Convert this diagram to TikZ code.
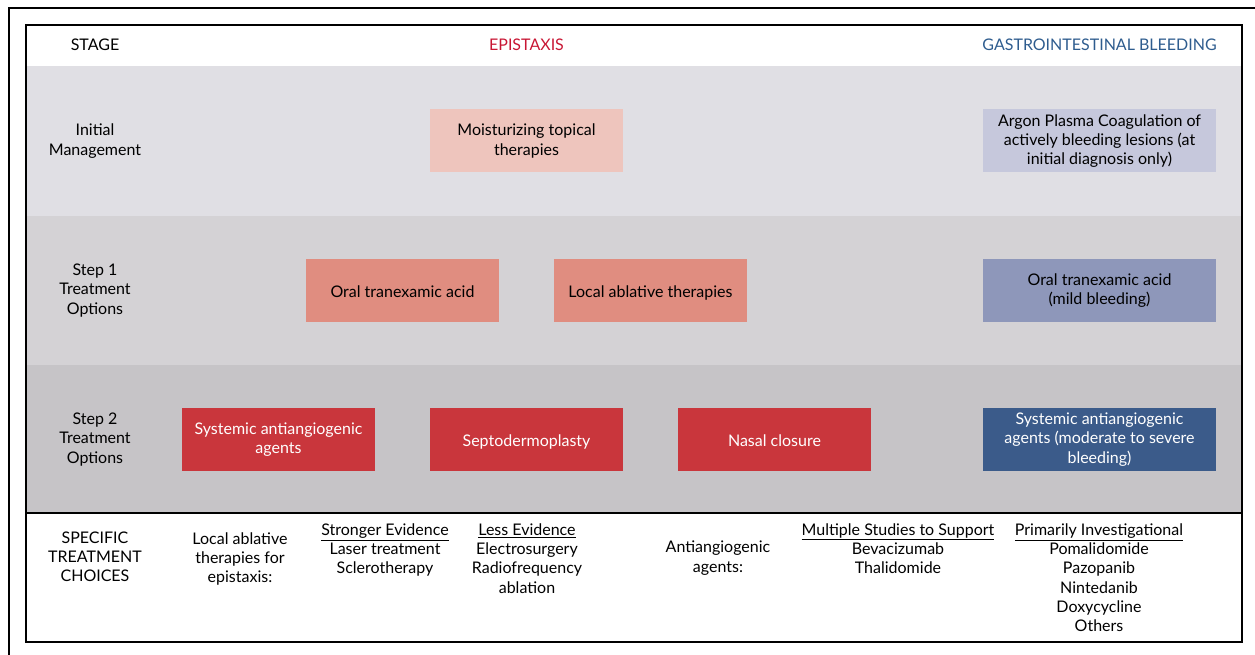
\documentclass[tikz,border=0pt]{standalone}
\usepackage{fontspec}
\setmainfont{Lato}
\usetikzlibrary{positioning}

\newcommand\linestrut{\rule[-2pt]{0pt}{14.2pt}}

\begin{document}
\begin{tikzpicture}[x=0.75pt,y=-0.75pt,node distance=186pt,
	every node/.style={font=\fontsize{12}{14.5}\selectfont,align=center,
		execute at begin node=\linestrut,execute at end node=\linestrut},
	main node/.style={rectangle,minimum width=144.75pt,minimum height=47.25pt,inner sep=2pt},
	gi node/.style={main node,minimum width=174.75pt},
	list node/.style={anchor=north,inner sep=0pt}]
	
	\definecolor{epired}{RGB}{200,22,52}
	\definecolor{giblue}{RGB}{46,92,142}
	\definecolor{rowa}{RGB}{224,223,228}
	\definecolor{rowb}{RGB}{212,210,213}
	\definecolor{rowc}{RGB}{198,196,199}
	\definecolor{pinka}{RGB}{238,197,189}
	\definecolor{pinkb}{RGB}{224,141,128}
	\definecolor{redc}{RGB}{201,54,60}
	\definecolor{lava}{RGB}{198,200,220}
	\definecolor{lavb}{RGB}{142,151,186}
	\definecolor{bluec}{RGB}{59,91,138}
	
	\useasboundingbox (0,0) rectangle (1255,655);
	
	% shaded stage rows
	\fill[rowa] (26,66) rectangle (1242,216);
	\fill[rowb] (26,216) rectangle (1242,365);
	\fill[rowc] (26,365) rectangle (1242,513);
	\draw[line width=1pt] (26,513) -- (1242,513);
	\draw[line width=1.1pt] (26,25) rectangle (1242,642);
	\draw[line width=1.5pt] (9,662) -- (9,8) -- (1262,8);
	
	% header
	\node (stage) at (95,44) {STAGE};
	\node[text=epired] (epi) at (526.5,44) {EPISTAXIS};
	\node[text=giblue] (gi) at (1099.5,44) {GASTROINTESTINAL BLEEDING};
	
	\node (init) at (95,141) {Initial\\Management};
	\node (one) at (95,290.5) {Step 1\\Treatment\\Options};
	\node (two) at (95,439.5) {Step 2\\Treatment\\Options};
	
	\node[main node, fill=pinka] (m) at (526.5,141) {Moisturizing topical\\therapies};
	\node[gi node, fill=lava] (apc) at (1099.5,141) {Argon Plasma Coagulation of\\actively bleeding lesions (at\\initial diagnosis only)};
	
	\node[main node, fill=pinkb] (t) at (402.5,290.5) {Oral tranexamic acid};
	\node[main node, fill=pinkb] (l) [right of=t] {Local ablative therapies};
	\node[gi node, fill=lavb] (tg) at (1099.5,290.5) {Oral tranexamic acid\\(mild bleeding)};
	
	\node[main node, fill=redc, text=white] (s) at (278.5,439.5) {Systemic antiangiogenic\\agents};
	\node[main node, fill=redc, text=white] (sd) [right of=s] {Septodermoplasty};
	\node[main node, fill=redc, text=white] (n) [right of=sd] {Nasal closure};
	\node[gi node, fill=bluec, text=white] (sg) at (1099.5,439.5) {Systemic antiangiogenic\\agents (moderate to severe\\bleeding)};
	
	% specific choices
	\node (spec) at (95,558) {SPECIFIC\\TREATMENT\\CHOICES};
	\node (abl) at (240,559) {Local ablative\\therapies for\\epistaxis:};
	\node[list node] (strong) at (385,523) {\underline{Stronger Evidence}\\Laser treatment\\Sclerotherapy};
	\node[list node] (less) at (527,523) {\underline{Less Evidence}\\Electrosurgery\\Radiofrequency\\ablation};
	\node (anti) at (718,558) {Antiangiogenic\\agents:};
	\node[list node] (multi) at (898,523) {\underline{Multiple Studies to Support}\\Bevacizumab\\Thalidomide};
	\node[list node] (inv) at (1099,523) {\underline{Primarily Investigational}\\Pomalidomide\\Pazopanib\\Nintedanib\\Doxycycline\\Others};
\end{tikzpicture}
\end{document}
